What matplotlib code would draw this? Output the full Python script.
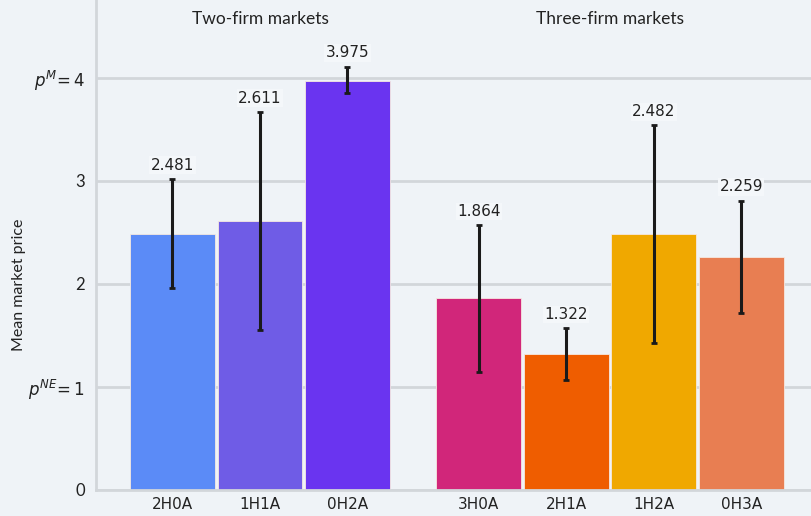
import matplotlib
matplotlib.use("Agg")
import matplotlib.pyplot as plt

categories = ["2H0A", "1H1A", "0H2A", "3H0A", "2H1A", "1H2A", "0H3A"]
means = [2.481, 2.611, 3.975, 1.864, 1.322, 2.482, 2.259]
err_low = [1.96, 1.55, 3.85, 1.15, 1.07, 1.43, 1.72]
err_high = [3.02, 3.67, 4.11, 2.57, 1.57, 3.54, 2.81]
colors = ["#5b8bf7", "#6f5ce6", "#6a34f0", "#d1267a", "#ef5d00", "#f0a800", "#e87e52"]
positions = [0, 1, 2, 3.5, 4.5, 5.5, 6.5]
group_titles = ["Two-firm markets", "Three-firm markets"]
yticks = [0, 1, 2, 3, 4]
ytick_labels = ["0", r"$p^{NE}\!=1$", "2", "3", r"$p^{M}\!=4$"]

bg = "#eff3f7"
plt.rcParams['font.family'] = ['Lato', 'DejaVu Sans']
plt.rcParams['mathtext.fontset'] = 'dejavusans'

fig = plt.figure(figsize=(8.12, 5.16), dpi=100, facecolor=bg)
ax = fig.add_axes([96/812, 26/516, 1 - 96/812, 490/516])
ax.set_facecolor(bg)

ax.bar(positions, means, width=0.97, color=colors, edgecolor="#f5e8e0", linewidth=0.6, zorder=2)
lo = [m - l for m, l in zip(means, err_low)]
hi = [h - m for m, h in zip(means, err_high)]
ax.errorbar(positions, means, yerr=[lo, hi], fmt="none", ecolor="#1a1a1a",
            elinewidth=2.2, capsize=2.5, capthick=2, zorder=3)
for x, m, h in zip(positions, means, err_high):
    ax.text(x, h + 0.06, f"{m:.3f}", ha="center", va="bottom", fontsize=11,
            family="DejaVu Sans", color="#222222", zorder=4,
            bbox=dict(facecolor="#f4f7fa", edgecolor="none", pad=1.0))

ax.set_xlim(-0.874, 7.31)
ax.set_ylim(0, 4.757)
ax.set_yticks(yticks)
ax.set_yticklabels(ytick_labels, fontsize=12)
ax.set_xticks(positions)
ax.set_xticklabels(categories, fontsize=11, family="DejaVu Sans")
ax.tick_params(length=0, pad=8, colors="#222222")
ax.tick_params(axis="x", pad=5)
ax.grid(axis="y", color="#d2d6da", linewidth=2, zorder=0)
ax.set_axisbelow(True)
for s in ["top", "right"]:
    ax.spines[s].set_visible(False)
ax.spines["left"].set_color("#d2d6da")
ax.spines["left"].set_linewidth(2)
ax.spines["bottom"].set_color("#d2d6da")
ax.spines["bottom"].set_linewidth(2)
ax.set_ylabel("Mean market price", fontsize=11.5, color="#222222")
ax.yaxis.set_label_coords((26 - 96) / 716, (490 - 285) / 490)

ax.text(1.0, 4.57, group_titles[0], ha="center", va="center", fontsize=12.5, color="#222222")
ax.text(5.0, 4.57, group_titles[1], ha="center", va="center", fontsize=12.5, color="#222222")

fig.savefig("out.png", dpi=100, facecolor=bg)
